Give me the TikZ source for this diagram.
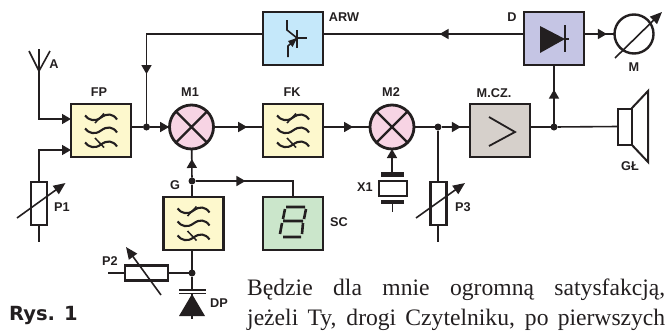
\documentclass[tikz,border=0pt]{standalone}
\usepackage{fontspec}
\setmainfont{Liberation Serif}
\newfontfamily\lab{Liberation Sans}
\newfontfamily\rys{DejaVu Sans}
\usetikzlibrary{arrows.meta,decorations.markings,calc}
\definecolor{cfilt}{RGB}{253,248,205}
\definecolor{cmix}{RGB}{247,212,228}
\definecolor{carw}{RGB}{197,232,250}
\definecolor{cdet}{RGB}{197,197,228}
\definecolor{camp}{RGB}{214,208,203}
\definecolor{cseg}{RGB}{203,230,203}
\definecolor{ink}{RGB}{35,31,32}
\tikzset{
  wire/.style={draw=ink,line width=1.6pt},
  blk/.style={draw=ink,line width=2.8pt,minimum width=60pt,minimum height=53pt,inner sep=0pt,outer sep=0pt},
  mix/.style={circle,draw=ink,line width=2.8pt,fill=cmix,minimum size=44pt,inner sep=0pt,outer sep=0pt},
  res/.style={draw=ink,line width=2.4pt,fill=white,inner sep=0pt,outer sep=0pt},
  dot/.style={circle,fill=ink,minimum size=7pt,inner sep=0pt,outer sep=0pt},
  lbl/.style={font=\lab\bfseries\fontsize{12.7}{12.7}\selectfont,text=ink,inner sep=0pt},
  tip/.style={-{Triangle[length=9pt,width=10pt,fill=ink,color=ink]}},
  marr/.style={postaction={decorate},decoration={markings,mark=at position #1 with {\arrow{Triangle[length=9pt,width=10pt,fill=ink,color=ink]}}}},
  adj/.style={draw=ink,line width=1.6pt,-{Triangle[length=12pt,width=10pt,fill=ink,color=ink]}},
  pics/filt/.style={code={
    \foreach \yy in {-13,0,14}{
      \draw[ink,line width=2.1pt,yshift=-\yy pt]
        (-16,-2) .. controls (-12,3) and (-6,4.5) .. (0,0) .. controls (6,-4.5) and (12,-4) .. (16,2);}
    \draw[ink,line width=1.5pt] (-6,-7.5) -- (3,-17);
    \draw[ink,line width=1.5pt] (-6,7.5) -- (3,17);
  }},
}
\begin{document}
\begin{tikzpicture}[x=1pt,y=-1pt]
\useasboundingbox (0,0) rectangle (669,330);
% blocks
\node[blk,fill=cfilt] (fp) at (101,130.5) {};
\node[blk,fill=cfilt] (fk) at (293,130.5) {};
\node[blk,fill=camp] (mcz) at (500,130.5) {};
\node[blk,fill=carw] (arw) at (293,38.5) {};
\node[blk,fill=cdet] (det) at (554,38.5) {};
\node[blk,fill=cfilt] (g) at (193.5,223.5) {};
\node[blk,fill=cseg] (sc) at (293,223.5) {};
\node[mix] (m1) at (191.5,127) {};
\node[mix] (m2) at (392,127) {};
\draw[ink,line width=2.4pt] (m1.north west) -- (m1.south east) (m1.north east) -- (m1.south west);
\draw[ink,line width=2.4pt] (m2.north west) -- (m2.south east) (m2.north east) -- (m2.south west);
\node[circle,draw=ink,line width=2.4pt,minimum size=39pt,inner sep=0pt,outer sep=0pt] (m) at (634,34) {};
\node[dot] (j1) at (146.5,127) {};
\node[dot] (j2) at (438,127) {};
\node[dot] (j3) at (554,127) {};
\node[dot] (j4) at (192,181) {};
\node[dot] (j5) at (192,273) {};
% coordinates
\coordinate (ant) at (39,71);
\coordinate (anttop) at (39,49);
\coordinate (p1bot) at (39,242);
\coordinate (p3bot) at (438,242);
\coordinate (dpbot) at (192,319);
\node[res,minimum width=16pt,minimum height=43pt] (p1) at (39,203.5) {};
\node[res,minimum width=16pt,minimum height=43pt] (p3) at (438.5,203.5) {};
\node[res,minimum width=43pt,minimum height=15pt] (p2) at (146.5,273) {};
\node[res,minimum width=28pt,minimum height=15pt] (x1) at (393,188.5) {};
\coordinate (p2l) at (108,273);
% wires
\draw[wire,tip] (ant) |- (fp.west |- 0,119);
\draw[wire] (anttop) -- (ant);
\draw[wire] (29,51) -- (ant) -- (50,51);
\draw[wire,tip] (p1.north) |- (fp.west |- 0,150);
\draw[wire] (p1.south) -- (p1bot);
\draw[wire] (fp.east |- j1) -- (j1);
\draw[wire,marr=0.98] (j1) -- (m1);
\draw[wire,marr={0.76}] (arw.west |- 0,34) -| (j1);
\draw[wire,marr=0.68] (m1) -- (fk.west |- m1);
\draw[wire,marr=0.64] (fk.east |- m2) -- (m2);
\draw[wire] (m2) -- (j2);
\draw[wire,marr=0.68] (j2) -- (mcz.west |- j2);
\draw[wire] (j2) -- (p3.north -| j2);
\draw[wire] (p3.south -| j2) -- (p3bot);
\draw[wire] (mcz.east |- j3) -- (j3);
\draw[wire,marr=0.58] (j3) -- (det.south);
\draw[wire,marr=0.42] (det.west |- 0,34) -- (arw.east |- 0,34);
\draw[wire,marr=0.75] (det.east |- m) -- (m);
\draw[wire,marr=0.65] (j4) -- (m1);
\draw[wire] (g.north -| j4) -- (j4);
\draw[wire,marr=0.44] (j4) -| (sc.north);
\draw[wire] (g.south -| j5) -- (j5);
\draw[wire] (j5) -- (p2.east);
\draw[wire] (p2.west) -- (p2l);
\draw[wire] (j5) -- (192,290);
\draw[wire] (192,293) -- (dpbot);
% speaker
\node[res,line width=2pt,minimum width=14pt,minimum height=36pt] (spk) at (624.5,126.5) {};
\draw[wire] (j3) -- (spk.west);
\draw[ink,line width=2pt] (spk.north east) -- (648,91) -- (648,162) -- (spk.south east);
% adjust arrows
\draw[adj] (17,218) -- (65.5,183);
\draw[adj] (416,218) -- (465,183);
\draw[adj] (161,295) -- (126,247);
\draw[adj] (615,58) -- (662,12);
% crystal
\draw[wire,tip] (x1.north -| m2) ++(0,-6) -- (m2);
\draw[ink,line width=4.5pt] (381,174.5) -- (404,174.5);
\draw[ink,line width=4.5pt] (381,202) -- (404,202);
\draw[wire] (392.5,204) -- (392.5,212);
% varicap
\draw[ink,line width=1.8pt] (179,290) -- (206,290) (179,293.5) -- (206,293.5);
\fill[ink] (192,294) -- (205,316) -- (179,316) -- cycle;
% filter glyphs
\pic at (fp) {filt};
\pic at (fk) {filt};
\pic at (g) {filt};
% transistor
\draw[ink,line width=1.6pt] (287,20) -- (287,30) -- (297,38);
\draw[ink,line width=1.6pt] (288,57) -- (288,46) -- (297,38);
\draw[ink,line width=2.8pt] (297,30) -- (297,48);
\draw[ink,line width=1.6pt] (297,38) -- (307,38);
\fill[ink] (297,38) -- (288,41) -- (292.5,47) -- cycle;
% diode
\fill[ink] (540,26) -- (565,39) -- (540,53) -- cycle;
\draw[ink,line width=2.2pt] (565,25) -- (565,52);
\draw[ink,line width=1.6pt] (565,39) -- (569,39);
% amp
\draw[ink,line width=1.8pt] (489,117) -- (515,132) -- (489,146);
% seven segment
\draw[ink,line width=2.6pt,line cap=butt]
  (286,207) -- (305,207)
  (283,221) -- (303,221)
  (283,237) -- (301,237)
  (285,209) -- (283,219) (282,223) -- (280,234)
  (306,209) -- (304,219) (303,223) -- (302,234);
% labels
\node[lbl] (lfp) at (99,92) {FP};
\node[lbl] (lm1) at (190,92) {M1};
\node[lbl] (lfk) at (292,92) {FK};
\node[lbl] (lm2) at (391,92) {M2};
\node[lbl] (lmcz) at (494,93) {M.CZ.};
\node[lbl] (larw) at (344,17) {ARW};
\node[lbl] (ld) at (512,17) {D};
\node[lbl] (lm) at (634,67) {M};
\node[lbl] (lgl) at (630,166) {GŁ};
\node[lbl] (la) at (54,64) {A};
\node[lbl] (lp1) at (62,207) {P1};
\node[lbl] (lp2) at (110,261) {P2};
\node[lbl] (lp3) at (463,207) {P3};
\node[lbl] (lg) at (175,185) {G};
\node[lbl] (lsc) at (339,222) {SC};
\node[lbl] (lx1) at (365,187) {X1};
\node[lbl] (ldp) at (219,303) {DP};
\node[font=\rys\bfseries\fontsize{19.5}{19.5}\selectfont,text=ink,inner sep=0pt,anchor=base west] (rys) at (9,320) {Rys. 1};
\node[font=\fontsize{23.6}{23.6}\selectfont,text=ink,inner sep=0pt,anchor=base west] (t1) at (247,295.5) {\makebox[418pt][s]{Będzie dla mnie ogromną satysfakcją,}};
\node[font=\fontsize{23.6}{23.6}\selectfont,text=ink,inner sep=0pt,anchor=base west] (t2) at (247,325) {\makebox[418pt][s]{jeżeli Ty, drogi Czytelniku, po pierwszych}};
\end{tikzpicture}
\end{document}
